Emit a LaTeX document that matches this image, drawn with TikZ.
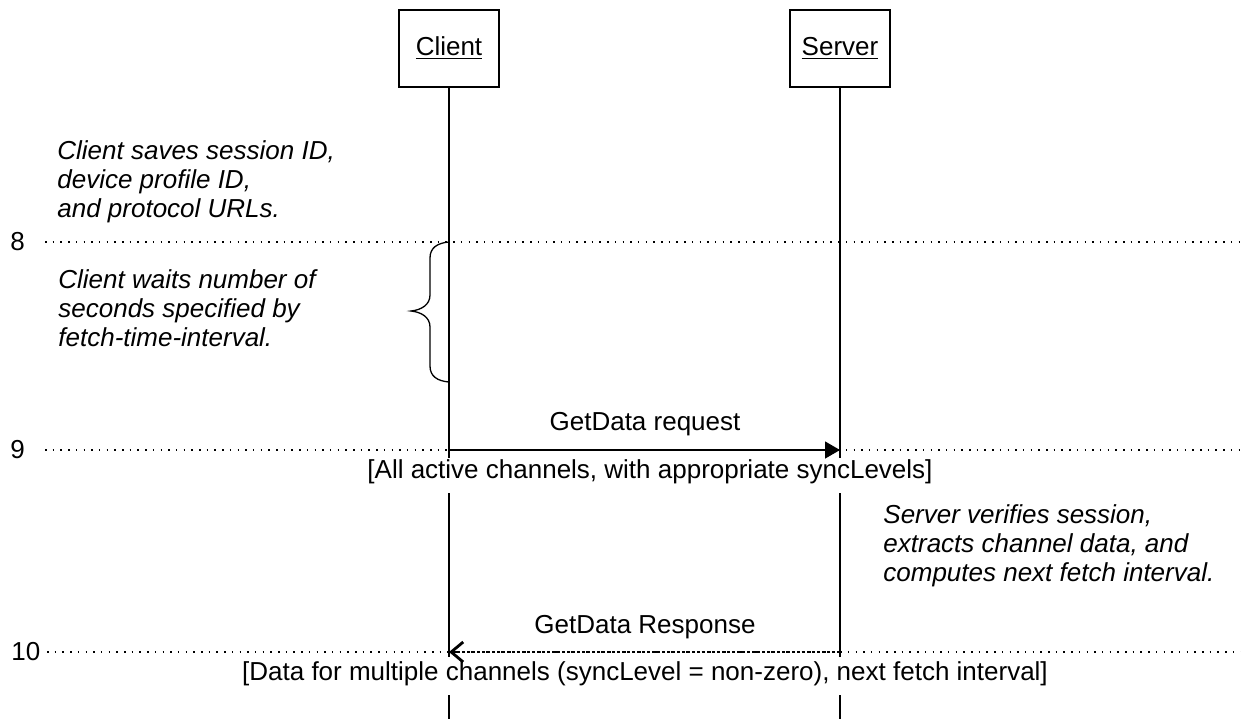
\documentclass[tikz,border=0pt]{standalone}
\usepackage{fontspec}
\setmainfont{Liberation Sans}
\usetikzlibrary{arrows.meta}
\begin{document}
\begin{tikzpicture}[x=0.5pt,y=-0.5pt,
  every node/.style={font=\fontsize{13pt}{14.5pt}\selectfont, inner sep=0pt},
  actor/.style={draw, line width=0.8pt, minimum width=50pt, minimum height=38.5pt},
  life/.style={line width=0.65pt},
  dotline/.style={line width=0.75pt, dash pattern=on 0.75pt off 3.1pt},
  note/.style={align=left, anchor=west, font=\fontsize{13pt}{14.5pt}\selectfont\itshape},
  req/.style={line width=0.65pt, -{Triangle[length=7.5pt,width=8.5pt]}},
  resp/.style={line width=0.65pt, dash pattern=on 1.6pt off 0.9pt, -{Straight Barb[length=6pt,width=10pt,line width=1.4pt]}},
  stepnum/.style={anchor=west},
  bracestyle/.style={line width=0.65pt}
]
\useasboundingbox (0,0) rectangle (1241,719);

% actors
\node[actor] (client) at (449,48.5) {\underline{Client}};
\node[actor] (server) at (840,48.5) {\underline{Server}};

% lifeline coordinates
\coordinate (c9a) at (449,458);
\coordinate (c9b) at (449,493);
\coordinate (c10a) at (449,657);
\coordinate (c10b) at (449,695);
\coordinate (cend) at (449,719);
\coordinate (s9a) at (840,458);
\coordinate (s9b) at (840,493);
\coordinate (s10a) at (840,657);
\coordinate (s10b) at (840,695);
\coordinate (send) at (840,719);

% dotted step lines
\node[stepnum] (n8) at (10,242) {8};
\node[stepnum] (n9) at (10,450) {9};
\node[stepnum] (n10) at (11,652) {10};
\coordinate (d8a) at (45,242);  \coordinate (d8b) at (1241,242);
\coordinate (d9a) at (45,450);  \coordinate (d9b) at (1241,450);
\coordinate (d10a) at (47,652); \coordinate (d10b) at (1241,652);
\draw[dotline] (d8a) -- (d8b);
\draw[dotline] (d9a) -- (d9b);
\draw[dotline] (d10a) -- (d10b);

% lifelines
\draw[life] (client.south) -- (c9a);
\draw[life] (c9b) -- (c10a);
\draw[life] (c10b) -- (cend);
\draw[life] (server.south) -- (s9a);
\draw[life] (s9b) -- (s10a);
\draw[life] (s10b) -- (send);

% notes
\node[note] (saves) at (57,182) {Client saves session ID,\\device profile ID,\\and protocol URLs.};
\node[note] (waits) at (58,308) {Client waits number of\\seconds specified by\\fetch-time-interval.};
\node[note] (verifies) at (883,546) {Server verifies session,\\extracts channel data, and\\computes next fetch interval.};

% brace
\draw[bracestyle] (449,242) .. controls (437,243) and (430,248) .. (430,258)
  -- (430,295) .. controls (430,305) and (421,310) .. (411,311)
  .. controls (421,312) and (430,317) .. (430,327)
  -- (430,366) .. controls (430,376) and (437,381) .. (449,382);

% messages
\coordinate (c9) at (449,450);
\coordinate (s9) at (840,450);
\draw[req] (c9) -- (s9);
\node (reqlbl) at (645,424) {GetData request};
\node (reqsub) at (650,472) {[All active channels, with appropriate syncLevels]};

\coordinate (c10) at (449,652);
\coordinate (s10) at (840,652);
\draw[resp] (s10) -- (c10);
\node (resplbl) at (645,627) {GetData Response};
\node (respsub) at (645,674) {[Data for multiple channels (syncLevel = non-zero), next fetch interval]};
\end{tikzpicture}
\end{document}
